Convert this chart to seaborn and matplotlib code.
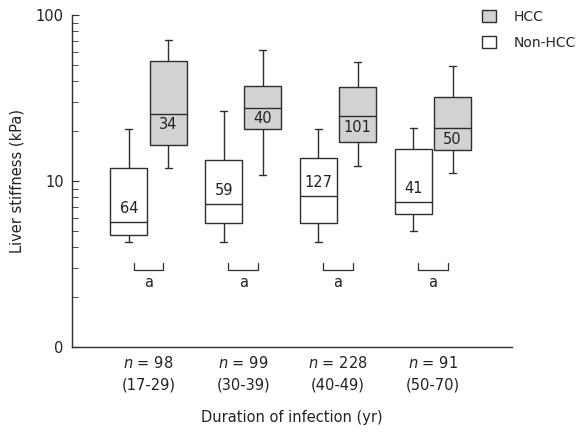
import numpy as np
import pandas as pd
import matplotlib
matplotlib.use("Agg")
import matplotlib.pyplot as plt
import seaborn as sns
from matplotlib.patches import Patch
from matplotlib.ticker import LogLocator, NullFormatter

# duration groups and totals
durations = ["17-29", "30-39", "40-49", "50-70"]
n_total = [98, 99, 228, 91]

# box summaries (kPa): low whisker, Q1, median, Q3, high whisker
nonhcc_lo = [4.3, 4.3, 4.3, 5.0]
nonhcc_q1 = [4.7, 5.6, 5.6, 6.3]
nonhcc_med = [5.7, 7.3, 8.1, 7.5]
nonhcc_q3 = [11.9, 13.4, 13.7, 15.5]
nonhcc_hi = [20.5, 26.3, 20.7, 20.8]
nonhcc_n = [64, 59, 127, 41]

hcc_lo = [12.0, 10.8, 12.3, 11.1]
hcc_q1 = [16.5, 20.5, 17.2, 15.3]
hcc_med = [25.5, 27.7, 24.6, 20.8]
hcc_q3 = [53.0, 37.2, 36.6, 32.1]
hcc_hi = [71.0, 61.5, 51.8, 49.4]
hcc_n = [34, 40, 101, 50]

# long table: the five summary values per box, so quartiles come out exactly
rows = []
for i, d in enumerate(durations):
    for v in [nonhcc_lo[i], nonhcc_q1[i], nonhcc_med[i], nonhcc_q3[i], nonhcc_hi[i]]:
        rows.append({"duration": d, "status": "Non-HCC", "kpa": v})
    for v in [hcc_lo[i], hcc_q1[i], hcc_med[i], hcc_q3[i], hcc_hi[i]]:
        rows.append({"duration": d, "status": "HCC", "kpa": v})
df = pd.DataFrame(rows)

sns.set_style("ticks")
plt.rcParams["font.family"] = ["DejaVu Sans"]
line_col = "#2e2e2e"
hcc_col = "#d2d2d2"

fig = plt.figure(figsize=(5.83, 4.45), dpi=100)
ax = fig.add_axes([72 / 583, 98 / 445, 440 / 583, 332 / 445])
ax.set_yscale("log")

box_width = 0.83
sns.boxplot(data=df, x="duration", y="kpa", hue="status", hue_order=["Non-HCC", "HCC"],
            order=durations, palette={"Non-HCC": "white", "HCC": hcc_col},
            linecolor=line_col, linewidth=1, width=box_width, gap=0.06,
            whis=np.inf, showfliers=False, legend=False, ax=ax)

# short whisker caps like the original
for ln in ax.lines:
    xd = np.asarray(ln.get_xdata(), dtype=float)
    yd = np.asarray(ln.get_ydata(), dtype=float)
    if len(xd) == 2 and yd[0] == yd[1] and abs(xd[1] - xd[0]) < 0.3:
        c = xd.mean()
        ln.set_xdata([c - 0.037, c + 0.037])

ax.set_ylim(1, 100)
ax.set_xlim(-0.807, 3.835)

# counts inside boxes
off = box_width / 4
for i in range(len(durations)):
    ax.annotate(str(nonhcc_n[i]), (i - off, nonhcc_med[i]), xytext=(0, 9.5),
                textcoords="offset points", ha="center", va="center", fontsize=10.5, color="#222")
    ax.annotate(str(hcc_n[i]), (i + off, hcc_med[i]), xytext=(0, -8),
                textcoords="offset points", ha="center", va="center", fontsize=10.5, color="#222")
    # significance bracket
    hw = 0.158
    ax.plot([i - hw, i - hw, i + hw, i + hw], [3.2, 2.9, 2.9, 3.2], color=line_col, lw=0.9)
    ax.text(i, 2.45, "a", ha="center", va="center", fontsize=10.5, color="#222")

ax.set_yticks([1, 10, 100], labels=["0", "10", "100"])
ax.yaxis.set_minor_locator(LogLocator(base=10, subs=np.arange(2, 10)))
ax.yaxis.set_minor_formatter(NullFormatter())
ax.tick_params(axis="y", which="both", direction="in", color=line_col, labelsize=10.5,
               labelcolor="#222", pad=6)
ax.tick_params(axis="y", which="major", length=5)
ax.tick_params(axis="y", which="minor", length=4)

ax.set_xticks(range(len(durations)),
              labels=[f"$\\it{{n}}$ = {n}\n({d})" for n, d in zip(n_total, durations)])
ax.tick_params(axis="x", length=0, pad=6, labelsize=10.5, labelcolor="#222")
plt.setp(ax.get_xticklabels(), linespacing=1.55)

ax.set_ylabel("Liver stiffness (kPa)", fontsize=10.5, color="#222", labelpad=8)
ax.set_xlabel("Duration of infection (yr)", fontsize=10.5, color="#222", labelpad=12)

sns.despine(ax=ax)
for s in ["left", "bottom"]:
    ax.spines[s].set_color(line_col)
    ax.spines[s].set_linewidth(1)

handles = [Patch(facecolor=hcc_col, edgecolor=line_col, label="HCC"),
           Patch(facecolor="white", edgecolor=line_col, label="Non-HCC")]
fig.legend(handles=handles, loc="upper left", bbox_to_anchor=(479 / 583, 1 - 7 / 445),
           frameon=False, handlelength=1.0, handleheight=1.0, handletextpad=1.3,
           labelspacing=0.85, fontsize=10, borderaxespad=0, borderpad=0.2)

fig.savefig("out.png", dpi=100)
